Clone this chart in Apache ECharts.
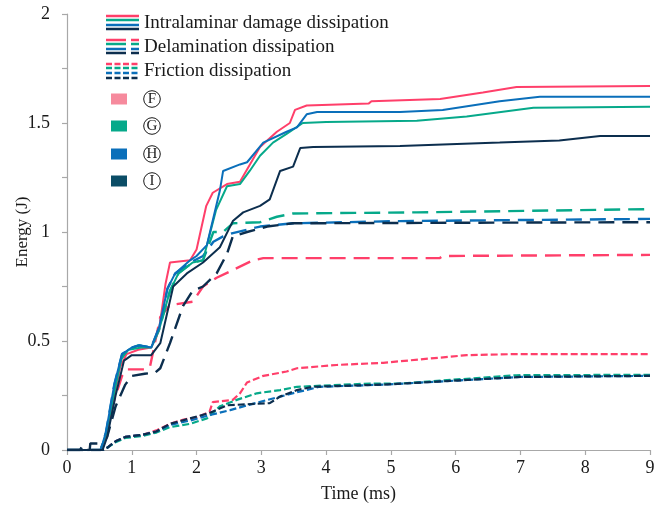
<!DOCTYPE html>
<html>
<head>
<meta charset="utf-8">
<script src="https://cdn.jsdelivr.net/npm/echarts@6/dist/echarts.min.js"></script>
<style>
  html, body { margin: 0; padding: 0; background: #fff; }
  #chart { width: 668px; height: 509px; }
</style>
</head>
<body>
<div id="chart"></div>
<script>
// Dissipated energy (J) vs time (ms) for configurations F, G, H, I

const caseNames = ['F', 'G', 'H', 'I'];
const caseColors = ['#ff3f6a', '#06a98a', '#0a6fba', '#0c2e4e'];
const swatchColors = ['#f68a9d', '#06a98a', '#0a6fba', '#0b4d66'];

const energyTicks = [0, 0.5, 1, 1.5, 2];
const timeTicks = [0, 1, 2, 3, 4, 5, 6, 7, 8, 9];

// Intralaminar damage dissipation [time, energy]
const intraF = [[0,0],[0.52,0],[0.6,0.06],[0.7,0.2],[0.82,0.38],[0.92,0.44],[1.1,0.46],[1.3,0.47],[1.42,0.55],[1.52,0.76],[1.59,0.86],[1.9,0.87],[2.0,0.92],[2.15,1.12],[2.25,1.18],[2.47,1.22],[2.67,1.23],[2.98,1.39],[3.24,1.46],[3.44,1.5],[3.52,1.56],[3.7,1.58],[4.66,1.59],[4.7,1.6],[5.76,1.61],[6.42,1.64],[6.94,1.665],[9,1.67]];
const intraG = [[0,0],[0.52,0],[0.6,0.07],[0.72,0.25],[0.84,0.42],[0.95,0.46],[1.15,0.47],[1.3,0.47],[1.42,0.55],[1.59,0.73],[1.72,0.81],[1.94,0.86],[2.1,0.87],[2.3,1.1],[2.47,1.21],[2.67,1.22],[2.82,1.28],[2.98,1.35],[3.18,1.41],[3.39,1.45],[3.64,1.5],[4.0,1.505],[5.4,1.51],[6.17,1.53],[7.2,1.57],[9,1.575]];
const intraH = [[0,0],[0.52,0],[0.6,0.08],[0.73,0.3],[0.85,0.44],[1.0,0.47],[1.12,0.48],[1.3,0.47],[1.42,0.56],[1.55,0.74],[1.67,0.81],[1.9,0.87],[2.0,0.89],[2.16,0.94],[2.36,1.19],[2.41,1.28],[2.67,1.31],[2.78,1.32],[3.03,1.41],[3.39,1.46],[3.55,1.48],[3.7,1.54],[3.86,1.55],[5.14,1.55],[5.8,1.56],[6.68,1.6],[7.3,1.62],[9,1.62]];
const intraI = [[0,0],[0.55,0],[0.62,0.06],[0.75,0.25],[0.88,0.41],[1.0,0.435],[1.3,0.435],[1.44,0.49],[1.64,0.75],[1.85,0.81],[2.1,0.86],[2.36,0.93],[2.56,1.05],[2.72,1.09],[2.98,1.12],[3.13,1.15],[3.29,1.28],[3.49,1.3],[3.6,1.385],[3.8,1.39],[5.14,1.395],[6.68,1.41],[7.6,1.42],[8.23,1.44],[9,1.44]];

// Delamination dissipation [time, energy]
const delamF = [[0,0],[0.52,0],[0.6,0.06],[0.72,0.22],[0.85,0.34],[0.93,0.37],[1.23,0.37],[1.28,0.38],[1.44,0.61],[1.59,0.665],[1.94,0.68],[2.1,0.75],[2.31,0.79],[2.56,0.825],[2.87,0.87],[3.03,0.88],[5.75,0.88],[5.8,0.89],[9,0.895]];
const delamG = [[0,0],[0.52,0],[0.6,0.07],[0.72,0.25],[0.84,0.42],[0.95,0.46],[1.1,0.48],[1.3,0.47],[1.42,0.55],[1.59,0.73],[1.72,0.81],[1.94,0.86],[2.1,0.87],[2.26,1.0],[2.41,1.0],[2.56,1.04],[2.98,1.045],[3.24,1.07],[3.49,1.085],[5.4,1.09],[9,1.105]];
const delamH = [[0,0],[0.52,0],[0.6,0.08],[0.73,0.3],[0.85,0.44],[1.0,0.47],[1.12,0.48],[1.3,0.47],[1.42,0.56],[1.55,0.74],[1.67,0.81],[1.9,0.86],[2.1,0.89],[2.26,0.955],[2.41,0.98],[2.56,0.995],[2.98,1.025],[3.49,1.04],[5.14,1.05],[9,1.06]];
const delamI = [[0,0],[0.2,0],[0.23,0.015],[0.26,0],[0.35,0],[0.36,0.03],[0.55,0.03],[0.62,0.06],[0.75,0.2],[0.9,0.3],[1.0,0.34],[1.2,0.35],[1.36,0.355],[1.44,0.375],[1.59,0.49],[1.79,0.66],[1.94,0.73],[2.1,0.75],[2.31,0.81],[2.47,0.9],[2.56,0.98],[2.78,1.0],[3.09,1.025],[3.49,1.04],[9,1.045]];

// Friction dissipation [time, energy]
const fricF = [[0,0],[0.55,0],[0.62,0.01],[0.75,0.04],[0.9,0.06],[1.17,0.07],[1.38,0.09],[1.59,0.12],[1.8,0.14],[2.0,0.15],[2.2,0.175],[2.25,0.22],[2.56,0.23],[2.67,0.26],[2.78,0.31],[3.03,0.34],[3.39,0.36],[3.55,0.375],[4.16,0.39],[4.88,0.40],[6.17,0.435],[6.94,0.44],[9,0.44]];
const fricG = [[0,0],[0.55,0],[0.62,0.01],[0.75,0.035],[0.9,0.055],[1.17,0.065],[1.38,0.08],[1.59,0.105],[1.9,0.12],[2.16,0.145],[2.36,0.2],[2.62,0.23],[2.93,0.26],[3.29,0.275],[3.55,0.29],[4.68,0.305],[5.14,0.305],[6.94,0.343],[9,0.345]];
const fricH = [[0,0],[0.55,0],[0.62,0.01],[0.75,0.04],[0.9,0.06],[1.17,0.07],[1.38,0.085],[1.59,0.115],[1.9,0.135],[2.2,0.16],[2.52,0.183],[2.78,0.205],[3.29,0.245],[3.55,0.265],[3.7,0.275],[3.9,0.29],[4.9,0.30],[7.0,0.335],[9,0.34]];
const fricI = [[0,0],[0.55,0],[0.62,0.01],[0.75,0.04],[0.9,0.06],[1.17,0.07],[1.38,0.085],[1.59,0.12],[1.9,0.145],[2.2,0.17],[2.47,0.205],[3.13,0.215],[3.29,0.245],[3.55,0.275],[3.8,0.29],[4.9,0.30],[7.0,0.335],[9,0.34]];

const intraData = [intraF, intraG, intraH, intraI];
const delamData = [delamF, delamG, delamH, delamI];
const fricData = [fricF, fricG, fricH, fricI];

const serif = '"Liberation Serif", "DejaVu Serif", serif';
const axisGray = '#a8a8a8';
const textColor = '#1a1a1a';

function lineSeries(name, data, color, dash, width) {
  return {
    name: name,
    type: 'line',
    data: data,
    showSymbol: false,
    symbol: 'none',
    animation: false,
    silent: true,
    lineStyle: { color: color, width: width, type: dash }
  };
}

const series = [];
// Friction drawn first, then delamination, then intralaminar on top
fricData.forEach((d, i) => series.push(lineSeries('Friction ' + caseNames[i], d, caseColors[i], [7, 3], 2.2)));
delamData.forEach((d, i) => series.push(lineSeries('Delamination ' + caseNames[i], d, caseColors[i], [16, 8], 2.4)));
intraData.forEach((d, i) => series.push(lineSeries('Intralaminar ' + caseNames[i], d, caseColors[i], 'solid', 2)));

// Legend: stacked line samples for each dissipation type, then case swatches
const legendRows = [
  { label: 'Intralaminar damage dissipation', ys: [16, 20, 25, 29], dash: null, textY: 23 },
  { label: 'Delamination dissipation', ys: [40, 44, 49, 53], dash: [20, 5], textY: 47 },
  { label: 'Friction dissipation', ys: [64, 68, 73, 78], dash: [6, 2.5], textY: 71 }
];
const graphics = [];
legendRows.forEach(row => {
  row.ys.forEach((y, i) => {
    graphics.push({
      type: 'line',
      shape: { x1: 106, y1: y, x2: 139, y2: y },
      style: { stroke: caseColors[i], lineWidth: 2.6, lineDash: row.dash || null }
    });
  });
  graphics.push({
    type: 'text',
    x: 144, y: row.textY,
    style: { text: row.label, fill: textColor, font: '19px ' + serif, verticalAlign: 'middle', align: 'left' }
  });
});
const swatchY = [99, 126, 154, 181];
caseNames.forEach((nm, i) => {
  graphics.push({
    type: 'rect',
    shape: { x: 111, y: swatchY[i] - 5.5, width: 16, height: 11 },
    style: { fill: swatchColors[i] }
  });
  graphics.push({
    type: 'circle',
    shape: { cx: 152, cy: swatchY[i], r: 8.3 },
    style: { fill: 'none', stroke: textColor, lineWidth: 1 }
  });
  graphics.push({
    type: 'text',
    x: 152, y: swatchY[i] + 0.5,
    style: { text: nm, fill: textColor, font: '15px ' + serif, align: 'center', verticalAlign: 'middle' }
  });
});

const chart = echarts.init(document.getElementById('chart'), null, { renderer: 'canvas' });
chart.setOption({
  animation: false,
  backgroundColor: '#ffffff',
  grid: { left: 67, right: 18, top: 14, bottom: 59, containLabel: false, outerBoundsMode: 'none' },
  xAxis: {
    type: 'value',
    min: timeTicks[0],
    max: timeTicks[timeTicks.length - 1],
    interval: 1,
    name: 'Time (ms)',
    nameLocation: 'middle',
    nameGap: 35,
    nameMoveOverlap: false,
    nameTextStyle: { fontFamily: serif, fontSize: 18, color: textColor },
    axisLine: { show: true, lineStyle: { color: axisGray, width: 1.2 } },
    axisTick: { show: true, length: 5, inside: false, lineStyle: { color: axisGray, width: 1.2 } },
    axisLabel: { fontFamily: serif, fontSize: 18, color: textColor, margin: 9 },
    splitLine: { show: false }
  },
  yAxis: {
    type: 'value',
    min: energyTicks[0],
    max: energyTicks[energyTicks.length - 1],
    interval: 0.5,
    name: 'Energy (J)',
    nameLocation: 'middle',
    nameGap: 36,
    nameMoveOverlap: false,
    nameTextStyle: { fontFamily: serif, fontSize: 17, color: textColor },
    axisLine: { show: true, lineStyle: { color: axisGray, width: 1.2 } },
    axisTick: { show: true, length: 5, lineStyle: { color: axisGray, width: 1.2 } },
    minorTick: { show: true, splitNumber: 2, length: 5, lineStyle: { color: axisGray, width: 1.2 } },
    axisLabel: { fontFamily: serif, fontSize: 18, color: textColor, margin: 17 },
    splitLine: { show: false },
    minorSplitLine: { show: false }
  },
  series: series,
  graphic: graphics
});
</script>
</body>
</html>
